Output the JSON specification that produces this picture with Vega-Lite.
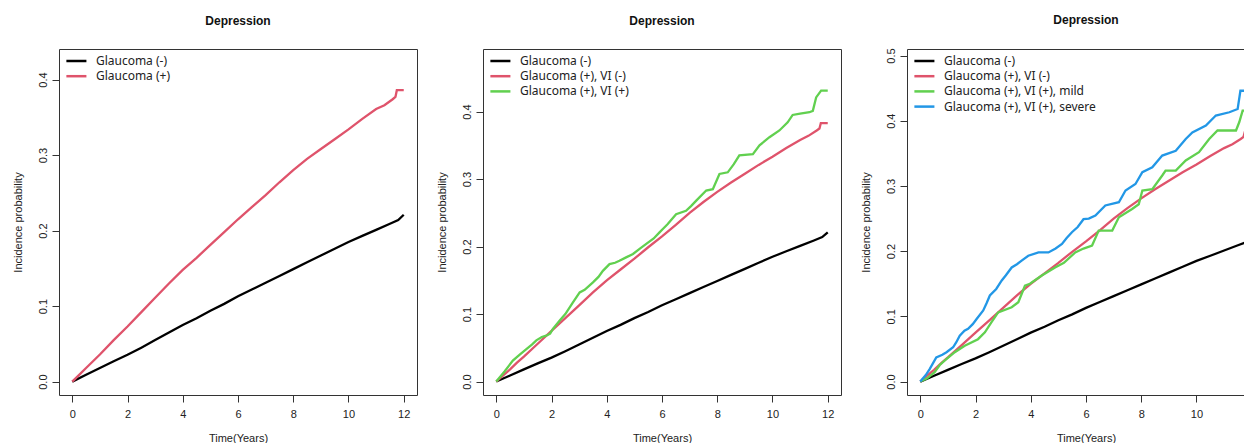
{
"$schema": "https://vega.github.io/schema/vega-lite/v6.json",
"padding": {"left": 11, "top": 13, "right": 0, "bottom": 0},
"spacing": 17,
"config": {
 "view": {"stroke": "#333", "strokeWidth": 1},
 "axis": {"domain": false, "grid": false, "tickColor": "#333", "tickSize": 7, "labelFont": "Liberation Sans", "labelFontSize": 11, "labelColor": "#222", "titleFont": "Liberation Sans", "titleFontSize": 11, "titleFontWeight": "normal", "titleColor": "#222"},
 "axisX": {"labelPadding": 6, "titlePadding": 13, "labelAngle": 0, "labelFlush": false},
 "axisY": {"labelAngle": -90, "labelAlign": "center", "labelBaseline": "bottom", "labelPadding": 4, "titlePadding": 14, "labelFlush": false},
 "title": {"fontSize": 12, "fontWeight": "bold", "font": "Liberation Sans", "offset": 21, "frame": "group", "anchor": "middle", "color": "#111"},
 "legend": {"orient": "top-left", "symbolType": "M-1.67,0H1.67", "symbolStrokeWidth": 2.5, "symbolSize": 144, "symbolOffset": 5.4, "labelFontSize": 12, "labelFont": "Noto Sans", "labelColor": "#222", "offset": 2, "padding": 2.5, "labelOffset": 12, "rowPadding": 1.2}
},
"datasets": {
 "p1": [
  {"t":0,"p":0,"g":"Glaucoma (-)"},{"t":0.5,"p":0.009,"g":"Glaucoma (-)"},{"t":1,"p":0.018,"g":"Glaucoma (-)"},{"t":1.5,"p":0.027,"g":"Glaucoma (-)"},{"t":2,"p":0.0355,"g":"Glaucoma (-)"},{"t":2.5,"p":0.045,"g":"Glaucoma (-)"},{"t":3,"p":0.055,"g":"Glaucoma (-)"},{"t":3.5,"p":0.065,"g":"Glaucoma (-)"},{"t":4,"p":0.075,"g":"Glaucoma (-)"},{"t":4.5,"p":0.084,"g":"Glaucoma (-)"},{"t":5,"p":0.094,"g":"Glaucoma (-)"},{"t":5.5,"p":0.103,"g":"Glaucoma (-)"},{"t":6,"p":0.113,"g":"Glaucoma (-)"},{"t":6.5,"p":0.122,"g":"Glaucoma (-)"},{"t":7,"p":0.131,"g":"Glaucoma (-)"},{"t":7.5,"p":0.14,"g":"Glaucoma (-)"},{"t":8,"p":0.149,"g":"Glaucoma (-)"},{"t":8.5,"p":0.158,"g":"Glaucoma (-)"},{"t":9,"p":0.167,"g":"Glaucoma (-)"},{"t":9.5,"p":0.176,"g":"Glaucoma (-)"},{"t":10,"p":0.185,"g":"Glaucoma (-)"},{"t":10.5,"p":0.193,"g":"Glaucoma (-)"},{"t":11,"p":0.201,"g":"Glaucoma (-)"},{"t":11.5,"p":0.209,"g":"Glaucoma (-)"},{"t":11.8,"p":0.214,"g":"Glaucoma (-)"},{"t":12,"p":0.221,"g":"Glaucoma (-)"},
  {"t":0,"p":0,"g":"Glaucoma (+)"},{"t":0.25,"p":0.009,"g":"Glaucoma (+)"},{"t":0.5,"p":0.018,"g":"Glaucoma (+)"},{"t":0.75,"p":0.027,"g":"Glaucoma (+)"},{"t":1,"p":0.036,"g":"Glaucoma (+)"},{"t":1.5,"p":0.055,"g":"Glaucoma (+)"},{"t":2,"p":0.073,"g":"Glaucoma (+)"},{"t":2.5,"p":0.092,"g":"Glaucoma (+)"},{"t":3,"p":0.111,"g":"Glaucoma (+)"},{"t":3.5,"p":0.13,"g":"Glaucoma (+)"},{"t":4,"p":0.148,"g":"Glaucoma (+)"},{"t":4.5,"p":0.164,"g":"Glaucoma (+)"},{"t":5,"p":0.181,"g":"Glaucoma (+)"},{"t":5.5,"p":0.198,"g":"Glaucoma (+)"},{"t":6,"p":0.215,"g":"Glaucoma (+)"},{"t":6.5,"p":0.231,"g":"Glaucoma (+)"},{"t":7,"p":0.247,"g":"Glaucoma (+)"},{"t":7.5,"p":0.264,"g":"Glaucoma (+)"},{"t":8,"p":0.28,"g":"Glaucoma (+)"},{"t":8.5,"p":0.295,"g":"Glaucoma (+)"},{"t":9,"p":0.308,"g":"Glaucoma (+)"},{"t":9.5,"p":0.321,"g":"Glaucoma (+)"},{"t":10,"p":0.334,"g":"Glaucoma (+)"},{"t":10.5,"p":0.348,"g":"Glaucoma (+)"},{"t":11,"p":0.361,"g":"Glaucoma (+)"},{"t":11.3,"p":0.366,"g":"Glaucoma (+)"},{"t":11.6,"p":0.374,"g":"Glaucoma (+)"},{"t":11.7,"p":0.377,"g":"Glaucoma (+)"},{"t":11.75,"p":0.386,"g":"Glaucoma (+)"},{"t":12,"p":0.386,"g":"Glaucoma (+)"}
 ],
 "p2": [
  {"t":0,"p":0,"g":"Glaucoma (-)"},{"t":0.5,"p":0.009,"g":"Glaucoma (-)"},{"t":1,"p":0.018,"g":"Glaucoma (-)"},{"t":1.5,"p":0.027,"g":"Glaucoma (-)"},{"t":2,"p":0.0355,"g":"Glaucoma (-)"},{"t":2.5,"p":0.045,"g":"Glaucoma (-)"},{"t":3,"p":0.055,"g":"Glaucoma (-)"},{"t":3.5,"p":0.065,"g":"Glaucoma (-)"},{"t":4,"p":0.075,"g":"Glaucoma (-)"},{"t":4.5,"p":0.084,"g":"Glaucoma (-)"},{"t":5,"p":0.094,"g":"Glaucoma (-)"},{"t":5.5,"p":0.103,"g":"Glaucoma (-)"},{"t":6,"p":0.113,"g":"Glaucoma (-)"},{"t":6.5,"p":0.122,"g":"Glaucoma (-)"},{"t":7,"p":0.131,"g":"Glaucoma (-)"},{"t":7.5,"p":0.14,"g":"Glaucoma (-)"},{"t":8,"p":0.149,"g":"Glaucoma (-)"},{"t":8.5,"p":0.158,"g":"Glaucoma (-)"},{"t":9,"p":0.167,"g":"Glaucoma (-)"},{"t":9.5,"p":0.176,"g":"Glaucoma (-)"},{"t":10,"p":0.185,"g":"Glaucoma (-)"},{"t":10.5,"p":0.193,"g":"Glaucoma (-)"},{"t":11,"p":0.201,"g":"Glaucoma (-)"},{"t":11.5,"p":0.209,"g":"Glaucoma (-)"},{"t":11.8,"p":0.214,"g":"Glaucoma (-)"},{"t":12,"p":0.221,"g":"Glaucoma (-)"},
  {"t":0,"p":0,"g":"Glaucoma (+), VI (-)"},{"t":0.25,"p":0.009,"g":"Glaucoma (+), VI (-)"},{"t":0.5,"p":0.018,"g":"Glaucoma (+), VI (-)"},{"t":0.75,"p":0.028,"g":"Glaucoma (+), VI (-)"},{"t":1,"p":0.037,"g":"Glaucoma (+), VI (-)"},{"t":1.5,"p":0.056,"g":"Glaucoma (+), VI (-)"},{"t":2,"p":0.075,"g":"Glaucoma (+), VI (-)"},{"t":2.5,"p":0.094,"g":"Glaucoma (+), VI (-)"},{"t":3,"p":0.113,"g":"Glaucoma (+), VI (-)"},{"t":3.5,"p":0.132,"g":"Glaucoma (+), VI (-)"},{"t":4,"p":0.15,"g":"Glaucoma (+), VI (-)"},{"t":4.5,"p":0.166,"g":"Glaucoma (+), VI (-)"},{"t":5,"p":0.182,"g":"Glaucoma (+), VI (-)"},{"t":5.5,"p":0.199,"g":"Glaucoma (+), VI (-)"},{"t":6,"p":0.215,"g":"Glaucoma (+), VI (-)"},{"t":6.5,"p":0.232,"g":"Glaucoma (+), VI (-)"},{"t":7,"p":0.25,"g":"Glaucoma (+), VI (-)"},{"t":7.5,"p":0.266,"g":"Glaucoma (+), VI (-)"},{"t":8,"p":0.281,"g":"Glaucoma (+), VI (-)"},{"t":8.5,"p":0.295,"g":"Glaucoma (+), VI (-)"},{"t":9,"p":0.308,"g":"Glaucoma (+), VI (-)"},{"t":9.5,"p":0.321,"g":"Glaucoma (+), VI (-)"},{"t":10,"p":0.333,"g":"Glaucoma (+), VI (-)"},{"t":10.5,"p":0.346,"g":"Glaucoma (+), VI (-)"},{"t":11,"p":0.358,"g":"Glaucoma (+), VI (-)"},{"t":11.3,"p":0.364,"g":"Glaucoma (+), VI (-)"},{"t":11.6,"p":0.372,"g":"Glaucoma (+), VI (-)"},{"t":11.7,"p":0.375,"g":"Glaucoma (+), VI (-)"},{"t":11.75,"p":0.383,"g":"Glaucoma (+), VI (-)"},{"t":12,"p":0.383,"g":"Glaucoma (+), VI (-)"},
  {"t":0,"p":0,"g":"Glaucoma (+), VI (+)"},{"t":0.3,"p":0.015,"g":"Glaucoma (+), VI (+)"},{"t":0.6,"p":0.031,"g":"Glaucoma (+), VI (+)"},{"t":0.85,"p":0.04,"g":"Glaucoma (+), VI (+)"},{"t":1.09,"p":0.048,"g":"Glaucoma (+), VI (+)"},{"t":1.3,"p":0.055,"g":"Glaucoma (+), VI (+)"},{"t":1.45,"p":0.061,"g":"Glaucoma (+), VI (+)"},{"t":1.65,"p":0.066,"g":"Glaucoma (+), VI (+)"},{"t":1.81,"p":0.068,"g":"Glaucoma (+), VI (+)"},{"t":1.95,"p":0.071,"g":"Glaucoma (+), VI (+)"},{"t":2.05,"p":0.078,"g":"Glaucoma (+), VI (+)"},{"t":2.29,"p":0.09,"g":"Glaucoma (+), VI (+)"},{"t":2.5,"p":0.1,"g":"Glaucoma (+), VI (+)"},{"t":2.77,"p":0.117,"g":"Glaucoma (+), VI (+)"},{"t":3.02,"p":0.132,"g":"Glaucoma (+), VI (+)"},{"t":3.2,"p":0.136,"g":"Glaucoma (+), VI (+)"},{"t":3.5,"p":0.147,"g":"Glaucoma (+), VI (+)"},{"t":3.7,"p":0.155,"g":"Glaucoma (+), VI (+)"},{"t":3.86,"p":0.164,"g":"Glaucoma (+), VI (+)"},{"t":4.1,"p":0.174,"g":"Glaucoma (+), VI (+)"},{"t":4.3,"p":0.176,"g":"Glaucoma (+), VI (+)"},{"t":4.46,"p":0.179,"g":"Glaucoma (+), VI (+)"},{"t":4.7,"p":0.184,"g":"Glaucoma (+), VI (+)"},{"t":4.95,"p":0.189,"g":"Glaucoma (+), VI (+)"},{"t":5.2,"p":0.197,"g":"Glaucoma (+), VI (+)"},{"t":5.43,"p":0.204,"g":"Glaucoma (+), VI (+)"},{"t":5.7,"p":0.212,"g":"Glaucoma (+), VI (+)"},{"t":5.91,"p":0.221,"g":"Glaucoma (+), VI (+)"},{"t":6.03,"p":0.226,"g":"Glaucoma (+), VI (+)"},{"t":6.2,"p":0.233,"g":"Glaucoma (+), VI (+)"},{"t":6.51,"p":0.248,"g":"Glaucoma (+), VI (+)"},{"t":6.87,"p":0.253,"g":"Glaucoma (+), VI (+)"},{"t":7.05,"p":0.26,"g":"Glaucoma (+), VI (+)"},{"t":7.24,"p":0.268,"g":"Glaucoma (+), VI (+)"},{"t":7.6,"p":0.283,"g":"Glaucoma (+), VI (+)"},{"t":7.84,"p":0.285,"g":"Glaucoma (+), VI (+)"},{"t":8.08,"p":0.3076,"g":"Glaucoma (+), VI (+)"},{"t":8.38,"p":0.31,"g":"Glaucoma (+), VI (+)"},{"t":8.6,"p":0.322,"g":"Glaucoma (+), VI (+)"},{"t":8.8,"p":0.335,"g":"Glaucoma (+), VI (+)"},{"t":9.29,"p":0.337,"g":"Glaucoma (+), VI (+)"},{"t":9.53,"p":0.35,"g":"Glaucoma (+), VI (+)"},{"t":9.89,"p":0.362,"g":"Glaucoma (+), VI (+)"},{"t":10.25,"p":0.372,"g":"Glaucoma (+), VI (+)"},{"t":10.55,"p":0.384,"g":"Glaucoma (+), VI (+)"},{"t":10.73,"p":0.395,"g":"Glaucoma (+), VI (+)"},{"t":11,"p":0.397,"g":"Glaucoma (+), VI (+)"},{"t":11.34,"p":0.399,"g":"Glaucoma (+), VI (+)"},{"t":11.46,"p":0.401,"g":"Glaucoma (+), VI (+)"},{"t":11.58,"p":0.421,"g":"Glaucoma (+), VI (+)"},{"t":11.76,"p":0.431,"g":"Glaucoma (+), VI (+)"},{"t":12,"p":0.431,"g":"Glaucoma (+), VI (+)"}
 ],
 "p3": [
  {"t":0,"p":0,"g":"Glaucoma (-)"},{"t":0.5,"p":0.009,"g":"Glaucoma (-)"},{"t":1,"p":0.018,"g":"Glaucoma (-)"},{"t":1.5,"p":0.027,"g":"Glaucoma (-)"},{"t":2,"p":0.0355,"g":"Glaucoma (-)"},{"t":2.5,"p":0.045,"g":"Glaucoma (-)"},{"t":3,"p":0.055,"g":"Glaucoma (-)"},{"t":3.5,"p":0.065,"g":"Glaucoma (-)"},{"t":4,"p":0.075,"g":"Glaucoma (-)"},{"t":4.5,"p":0.084,"g":"Glaucoma (-)"},{"t":5,"p":0.094,"g":"Glaucoma (-)"},{"t":5.5,"p":0.103,"g":"Glaucoma (-)"},{"t":6,"p":0.113,"g":"Glaucoma (-)"},{"t":6.5,"p":0.122,"g":"Glaucoma (-)"},{"t":7,"p":0.131,"g":"Glaucoma (-)"},{"t":7.5,"p":0.14,"g":"Glaucoma (-)"},{"t":8,"p":0.149,"g":"Glaucoma (-)"},{"t":8.5,"p":0.158,"g":"Glaucoma (-)"},{"t":9,"p":0.167,"g":"Glaucoma (-)"},{"t":9.5,"p":0.176,"g":"Glaucoma (-)"},{"t":10,"p":0.185,"g":"Glaucoma (-)"},{"t":10.5,"p":0.193,"g":"Glaucoma (-)"},{"t":11,"p":0.201,"g":"Glaucoma (-)"},{"t":11.5,"p":0.209,"g":"Glaucoma (-)"},{"t":11.8,"p":0.214,"g":"Glaucoma (-)"},{"t":12,"p":0.221,"g":"Glaucoma (-)"},
  {"t":0,"p":0,"g":"Glaucoma (+), VI (-)"},{"t":0.25,"p":0.009,"g":"Glaucoma (+), VI (-)"},{"t":0.5,"p":0.018,"g":"Glaucoma (+), VI (-)"},{"t":0.75,"p":0.028,"g":"Glaucoma (+), VI (-)"},{"t":1,"p":0.037,"g":"Glaucoma (+), VI (-)"},{"t":1.5,"p":0.056,"g":"Glaucoma (+), VI (-)"},{"t":2,"p":0.075,"g":"Glaucoma (+), VI (-)"},{"t":2.5,"p":0.094,"g":"Glaucoma (+), VI (-)"},{"t":3,"p":0.113,"g":"Glaucoma (+), VI (-)"},{"t":3.5,"p":0.132,"g":"Glaucoma (+), VI (-)"},{"t":4,"p":0.15,"g":"Glaucoma (+), VI (-)"},{"t":4.5,"p":0.166,"g":"Glaucoma (+), VI (-)"},{"t":5,"p":0.182,"g":"Glaucoma (+), VI (-)"},{"t":5.5,"p":0.199,"g":"Glaucoma (+), VI (-)"},{"t":6,"p":0.215,"g":"Glaucoma (+), VI (-)"},{"t":6.5,"p":0.232,"g":"Glaucoma (+), VI (-)"},{"t":7,"p":0.25,"g":"Glaucoma (+), VI (-)"},{"t":7.5,"p":0.266,"g":"Glaucoma (+), VI (-)"},{"t":8,"p":0.281,"g":"Glaucoma (+), VI (-)"},{"t":8.5,"p":0.295,"g":"Glaucoma (+), VI (-)"},{"t":9,"p":0.308,"g":"Glaucoma (+), VI (-)"},{"t":9.5,"p":0.321,"g":"Glaucoma (+), VI (-)"},{"t":10,"p":0.333,"g":"Glaucoma (+), VI (-)"},{"t":10.5,"p":0.346,"g":"Glaucoma (+), VI (-)"},{"t":11,"p":0.358,"g":"Glaucoma (+), VI (-)"},{"t":11.3,"p":0.364,"g":"Glaucoma (+), VI (-)"},{"t":11.6,"p":0.372,"g":"Glaucoma (+), VI (-)"},{"t":11.7,"p":0.375,"g":"Glaucoma (+), VI (-)"},{"t":11.75,"p":0.383,"g":"Glaucoma (+), VI (-)"},{"t":12,"p":0.383,"g":"Glaucoma (+), VI (-)"},
  {"t":0,"p":0,"g":"Glaucoma (+), VI (+), mild"},{"t":0.25,"p":0.005,"g":"Glaucoma (+), VI (+), mild"},{"t":0.52,"p":0.0143,"g":"Glaucoma (+), VI (+), mild"},{"t":0.7,"p":0.025,"g":"Glaucoma (+), VI (+), mild"},{"t":0.88,"p":0.032,"g":"Glaucoma (+), VI (+), mild"},{"t":1.25,"p":0.045,"g":"Glaucoma (+), VI (+), mild"},{"t":1.61,"p":0.055,"g":"Glaucoma (+), VI (+), mild"},{"t":2.09,"p":0.065,"g":"Glaucoma (+), VI (+), mild"},{"t":2.34,"p":0.0756,"g":"Glaucoma (+), VI (+), mild"},{"t":2.58,"p":0.091,"g":"Glaucoma (+), VI (+), mild"},{"t":2.82,"p":0.106,"g":"Glaucoma (+), VI (+), mild"},{"t":3.31,"p":0.114,"g":"Glaucoma (+), VI (+), mild"},{"t":3.55,"p":0.1216,"g":"Glaucoma (+), VI (+), mild"},{"t":3.79,"p":0.147,"g":"Glaucoma (+), VI (+), mild"},{"t":3.97,"p":0.15,"g":"Glaucoma (+), VI (+), mild"},{"t":4.4,"p":0.1626,"g":"Glaucoma (+), VI (+), mild"},{"t":4.88,"p":0.175,"g":"Glaucoma (+), VI (+), mild"},{"t":5.2,"p":0.182,"g":"Glaucoma (+), VI (+), mild"},{"t":5.61,"p":0.198,"g":"Glaucoma (+), VI (+), mild"},{"t":5.91,"p":0.204,"g":"Glaucoma (+), VI (+), mild"},{"t":6.22,"p":0.2086,"g":"Glaucoma (+), VI (+), mild"},{"t":6.46,"p":0.2316,"g":"Glaucoma (+), VI (+), mild"},{"t":6.95,"p":0.2316,"g":"Glaucoma (+), VI (+), mild"},{"t":7.19,"p":0.252,"g":"Glaucoma (+), VI (+), mild"},{"t":7.67,"p":0.2647,"g":"Glaucoma (+), VI (+), mild"},{"t":7.91,"p":0.272,"g":"Glaucoma (+), VI (+), mild"},{"t":8.04,"p":0.293,"g":"Glaucoma (+), VI (+), mild"},{"t":8.4,"p":0.295,"g":"Glaucoma (+), VI (+), mild"},{"t":8.76,"p":0.316,"g":"Glaucoma (+), VI (+), mild"},{"t":8.88,"p":0.3236,"g":"Glaucoma (+), VI (+), mild"},{"t":9.25,"p":0.3236,"g":"Glaucoma (+), VI (+), mild"},{"t":9.61,"p":0.339,"g":"Glaucoma (+), VI (+), mild"},{"t":10.09,"p":0.3517,"g":"Glaucoma (+), VI (+), mild"},{"t":10.46,"p":0.372,"g":"Glaucoma (+), VI (+), mild"},{"t":10.76,"p":0.385,"g":"Glaucoma (+), VI (+), mild"},{"t":11.43,"p":0.385,"g":"Glaucoma (+), VI (+), mild"},{"t":11.55,"p":0.398,"g":"Glaucoma (+), VI (+), mild"},{"t":11.67,"p":0.4156,"g":"Glaucoma (+), VI (+), mild"},{"t":12,"p":0.4156,"g":"Glaucoma (+), VI (+), mild"},
  {"t":0,"p":0,"g":"Glaucoma (+), VI (+), severe"},{"t":0.2,"p":0.01,"g":"Glaucoma (+), VI (+), severe"},{"t":0.34,"p":0.019,"g":"Glaucoma (+), VI (+), severe"},{"t":0.58,"p":0.037,"g":"Glaucoma (+), VI (+), severe"},{"t":0.8,"p":0.041,"g":"Glaucoma (+), VI (+), severe"},{"t":0.95,"p":0.045,"g":"Glaucoma (+), VI (+), severe"},{"t":1.19,"p":0.0526,"g":"Glaucoma (+), VI (+), severe"},{"t":1.3,"p":0.06,"g":"Glaucoma (+), VI (+), severe"},{"t":1.43,"p":0.0705,"g":"Glaucoma (+), VI (+), severe"},{"t":1.6,"p":0.078,"g":"Glaucoma (+), VI (+), severe"},{"t":1.73,"p":0.081,"g":"Glaucoma (+), VI (+), severe"},{"t":1.9,"p":0.088,"g":"Glaucoma (+), VI (+), severe"},{"t":2.04,"p":0.096,"g":"Glaucoma (+), VI (+), severe"},{"t":2.28,"p":0.109,"g":"Glaucoma (+), VI (+), severe"},{"t":2.4,"p":0.12,"g":"Glaucoma (+), VI (+), severe"},{"t":2.52,"p":0.132,"g":"Glaucoma (+), VI (+), severe"},{"t":2.75,"p":0.142,"g":"Glaucoma (+), VI (+), severe"},{"t":2.95,"p":0.155,"g":"Glaucoma (+), VI (+), severe"},{"t":3.1,"p":0.163,"g":"Glaucoma (+), VI (+), severe"},{"t":3.31,"p":0.175,"g":"Glaucoma (+), VI (+), severe"},{"t":3.5,"p":0.18,"g":"Glaucoma (+), VI (+), severe"},{"t":3.67,"p":0.1855,"g":"Glaucoma (+), VI (+), severe"},{"t":3.91,"p":0.193,"g":"Glaucoma (+), VI (+), severe"},{"t":4.28,"p":0.198,"g":"Glaucoma (+), VI (+), severe"},{"t":4.64,"p":0.198,"g":"Glaucoma (+), VI (+), severe"},{"t":4.9,"p":0.204,"g":"Glaucoma (+), VI (+), severe"},{"t":5.13,"p":0.211,"g":"Glaucoma (+), VI (+), severe"},{"t":5.3,"p":0.22,"g":"Glaucoma (+), VI (+), severe"},{"t":5.49,"p":0.229,"g":"Glaucoma (+), VI (+), severe"},{"t":5.7,"p":0.237,"g":"Glaucoma (+), VI (+), severe"},{"t":5.91,"p":0.249,"g":"Glaucoma (+), VI (+), severe"},{"t":6.1,"p":0.25,"g":"Glaucoma (+), VI (+), severe"},{"t":6.34,"p":0.2546,"g":"Glaucoma (+), VI (+), severe"},{"t":6.7,"p":0.27,"g":"Glaucoma (+), VI (+), severe"},{"t":7.19,"p":0.275,"g":"Glaucoma (+), VI (+), severe"},{"t":7.43,"p":0.293,"g":"Glaucoma (+), VI (+), severe"},{"t":7.79,"p":0.303,"g":"Glaucoma (+), VI (+), severe"},{"t":8.04,"p":0.321,"g":"Glaucoma (+), VI (+), severe"},{"t":8.4,"p":0.3287,"g":"Glaucoma (+), VI (+), severe"},{"t":8.76,"p":0.3466,"g":"Glaucoma (+), VI (+), severe"},{"t":9.25,"p":0.354,"g":"Glaucoma (+), VI (+), severe"},{"t":9.61,"p":0.372,"g":"Glaucoma (+), VI (+), severe"},{"t":9.85,"p":0.382,"g":"Glaucoma (+), VI (+), severe"},{"t":10.34,"p":0.3926,"g":"Glaucoma (+), VI (+), severe"},{"t":10.7,"p":0.408,"g":"Glaucoma (+), VI (+), severe"},{"t":11.19,"p":0.413,"g":"Glaucoma (+), VI (+), severe"},{"t":11.49,"p":0.418,"g":"Glaucoma (+), VI (+), severe"},{"t":11.59,"p":0.446,"g":"Glaucoma (+), VI (+), severe"},{"t":12,"p":0.446,"g":"Glaucoma (+), VI (+), severe"}
 ]
},
"hconcat": [
 {
  "width": 358, "height": 346,
  "title": "Depression",
  "data": {"name": "p1"},
  "mark": {"type": "line", "strokeWidth": 2.3, "clip": true},
  "encoding": {
   "x": {"field": "t", "type": "quantitative", "title": "Time(Years)", "scale": {"domain": [-0.48, 12.48], "nice": false, "zero": false}, "axis": {"values": [0,2,4,6,8,10,12], "format": "d"}},
   "y": {"field": "p", "type": "quantitative", "title": "Incidence probability", "scale": {"domain": [-0.0177, 0.4405], "nice": false, "zero": false}, "axis": {"values": [0,0.1,0.2,0.3,0.4], "format": ".1f"}},
   "color": {"field": "g", "type": "nominal", "scale": {"domain": ["Glaucoma (-)", "Glaucoma (+)"], "range": ["#000000", "#DF536B"]}, "legend": {"title": null}},
   "order": {"field": "t", "type": "quantitative"}
  }
 },
 {
  "width": 358, "height": 346,
  "title": "Depression",
  "data": {"name": "p2"},
  "mark": {"type": "line", "strokeWidth": 2.3, "clip": true},
  "encoding": {
   "x": {"field": "t", "type": "quantitative", "title": "Time(Years)", "scale": {"domain": [-0.48, 12.48], "nice": false, "zero": false}, "axis": {"values": [0,2,4,6,8,10,12], "format": "d"}},
   "y": {"field": "p", "type": "quantitative", "title": "Incidence probability", "scale": {"domain": [-0.0199, 0.4927], "nice": false, "zero": false}, "axis": {"values": [0,0.1,0.2,0.3,0.4], "format": ".1f"}},
   "color": {"field": "g", "type": "nominal", "scale": {"domain": ["Glaucoma (-)", "Glaucoma (+), VI (-)", "Glaucoma (+), VI (+)"], "range": ["#000000", "#DF536B", "#61D04F"]}, "legend": {"title": null}},
   "order": {"field": "t", "type": "quantitative"}
  }
 },
 {
  "width": 358, "height": 346,
  "title": "Depression",
  "data": {"name": "p3"},
  "mark": {"type": "line", "strokeWidth": 2.3, "clip": true},
  "encoding": {
   "x": {"field": "t", "type": "quantitative", "title": "Time(Years)", "scale": {"domain": [-0.48, 12.48], "nice": false, "zero": false}, "axis": {"values": [0,2,4,6,8,10,12], "format": "d"}},
   "y": {"field": "p", "type": "quantitative", "title": "Incidence probability", "scale": {"domain": [-0.0206, 0.51], "nice": false, "zero": false}, "axis": {"values": [0,0.1,0.2,0.3,0.4,0.5], "format": ".1f"}},
   "color": {"field": "g", "type": "nominal", "scale": {"domain": ["Glaucoma (-)", "Glaucoma (+), VI (-)", "Glaucoma (+), VI (+), mild", "Glaucoma (+), VI (+), severe"], "range": ["#000000", "#DF536B", "#61D04F", "#2297E6"]}, "legend": {"title": null}},
   "order": {"field": "t", "type": "quantitative"}
  }
 }
],
"resolve": {"scale": {"color": "independent", "x": "independent", "y": "independent"}, "legend": {"color": "independent"}}
}
